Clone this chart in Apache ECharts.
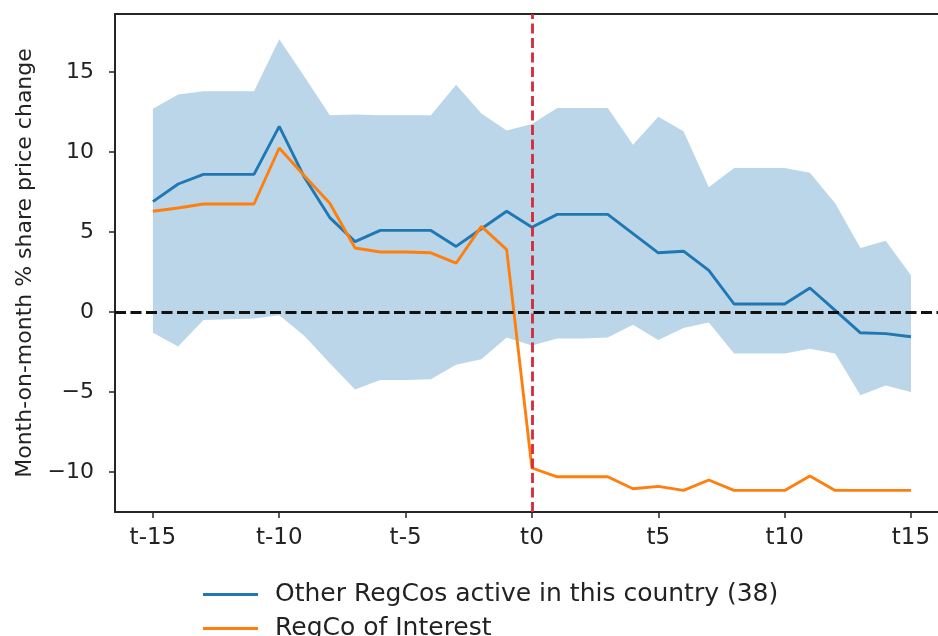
<!DOCTYPE html>
<html>
<head>
<meta charset="utf-8">
<script src="https://cdn.jsdelivr.net/npm/echarts@6/dist/echarts.min.js"></script>
<style>
html,body{margin:0;padding:0;background:#fff;}
#chart{width:938px;height:636px;}
</style>
</head>
<body>
<div id="chart"></div>
<script>
const steps = [-15,-14,-13,-12,-11,-10,-9,-8,-7,-6,-5,-4,-3,-2,-1,0,1,2,3,4,5,6,7,8,9,10,11,12,13,14,15];
const othersMean = [6.9, 8.0, 8.6, 8.6, 8.6, 11.6, 8.4, 5.9, 4.4, 5.1, 5.1, 5.1, 4.1, 5.2, 6.3, 5.3, 6.1, 6.1, 6.1, 4.9, 3.7, 3.8, 2.6, 0.5, 0.5, 0.5, 1.5, 0.1, -1.3, -1.35, -1.55];
const regcoInterest = [6.3, 6.5, 6.75, 6.75, 6.75, 10.25, 8.5, 6.8, 4.0, 3.75, 3.75, 3.7, 3.05, 5.35, 3.9, -9.75, -10.3, -10.3, -10.3, -11.05, -10.9, -11.15, -10.5, -11.15, -11.15, -11.15, -10.25, -11.15, -11.15, -11.15, -11.15];
const bandUpper = [12.7, 13.6, 13.8, 13.8, 13.8, 17.05, 14.7, 12.3, 12.35, 12.3, 12.3, 12.3, 14.2, 12.4, 11.35, 11.75, 12.75, 12.75, 12.75, 10.45, 12.2, 11.3, 7.8, 9.0, 9.0, 9.0, 8.7, 6.8, 4.0, 4.45, 2.3];
const bandLower = [-1.3, -2.15, -0.5, -0.45, -0.4, -0.2, -1.5, -3.2, -4.85, -4.25, -4.25, -4.2, -3.3, -2.95, -1.6, -2.1, -1.65, -1.65, -1.6, -0.8, -1.75, -1.0, -0.65, -2.6, -2.6, -2.6, -2.3, -2.6, -5.2, -4.6, -5.0];
const xTicks = [-15, -10, -5, 0, 5, 10, 15];
const yTicks = [-10, -5, 0, 5, 10, 15];
const seriesNames = ['Other RegCos active in this country (38)', 'RegCo of Interest'];
const yTitle = 'Month-on-month % share price change';

const FONT = 'DejaVu Sans';
const TXT = '#222';
const AX = '#262626';
const pair = arr => steps.map((s, i) => [s, arr[i]]);
const bandData = steps.map((s, i) => [s, bandLower[i], bandUpper[i]]);

function renderBand(params, api) {
  if (params.dataIndex !== 0) return null;
  const top = bandData.map(d => api.coord([d[0], d[2]]));
  const bot = bandData.map(d => api.coord([d[0], d[1]])).reverse();
  return {
    type: 'polygon',
    shape: {points: top.concat(bot)},
    style: {fill: 'rgba(31,119,180,0.3)', stroke: 'none'}
  };
}

const chart = echarts.init(document.getElementById('chart'), null, {renderer: 'canvas'});
chart.setOption({
  animation: false,
  backgroundColor: '#fff',
  grid: {left: 115, top: 14, right: 0, height: 498},
  xAxis: [{
    type: 'value', min: -16.5, max: 16.07,
    axisLine: {show: true, onZero: false, lineStyle: {color: AX, width: 2}},
    axisTick: {show: true, customValues: xTicks, length: 6, lineStyle: {color: AX, width: 1.5}},
    axisLabel: {customValues: xTicks, formatter: v => 't' + v, color: TXT, fontFamily: FONT, fontSize: 23, margin: 15},
    splitLine: {show: false}
  }, {
    type: 'value', min: -16.5, max: 16.07, position: 'top',
    axisLine: {show: true, onZero: false, lineStyle: {color: AX, width: 2}},
    axisTick: {show: false}, axisLabel: {show: false}, splitLine: {show: false}
  }],
  yAxis: {
    type: 'value', min: -12.5, max: 18.625,
    axisLine: {show: true, onZero: false, lineStyle: {color: AX, width: 2}},
    axisTick: {show: true, customValues: yTicks, length: 6, lineStyle: {color: AX, width: 1.5}},
    axisLabel: {customValues: yTicks, formatter: v => (v < 0 ? '\u2212' + Math.abs(v) : '' + v), color: TXT, fontFamily: FONT, fontSize: 22, margin: 21},
    splitLine: {show: false},
    name: yTitle, nameLocation: 'middle', nameGap: 79, nameRotate: 90,
    nameTextStyle: {color: TXT, fontFamily: FONT, fontSize: 22}
  },
  legend: {
    orient: 'vertical', left: 203, top: 582, height: 70, padding: 0,
    itemWidth: 55, itemHeight: 3, itemGap: 9, icon: 'rect',
    textStyle: {color: TXT, fontFamily: FONT, fontSize: 25, lineHeight: 23, padding: [0, 0, 0, 12]},
    data: seriesNames
  },
  series: [
    {
      type: 'custom', name: 'band', data: bandData, renderItem: renderBand,
      encode: {x: 0, y: [1, 2]}, silent: true, z: 1, clip: true
    },
    {
      type: 'line', name: seriesNames[0], data: pair(othersMean), symbol: 'none',
      itemStyle: {color: '#1f77b4'}, lineStyle: {color: '#1f77b4', width: 2.9}, z: 3
    },
    {
      type: 'line', name: seriesNames[1], data: pair(regcoInterest), symbol: 'none',
      itemStyle: {color: '#ff7f0e'}, lineStyle: {color: '#ff7f0e', width: 2.9}, z: 4
    },
    {
      type: 'line', name: 'refs', data: [], z: 5, silent: true,
      markLine: {
        silent: true, symbol: 'none', label: {show: false}, animation: false,
        data: [
          {yAxis: 0, lineStyle: {color: '#111', width: 2.8, type: [11, 4.5]}},
          {xAxis: 0, lineStyle: {color: '#d42a3a', width: 2.8, type: [10, 4.5]}}
        ]
      }
    }
  ]
});
</script>
</body>
</html>
